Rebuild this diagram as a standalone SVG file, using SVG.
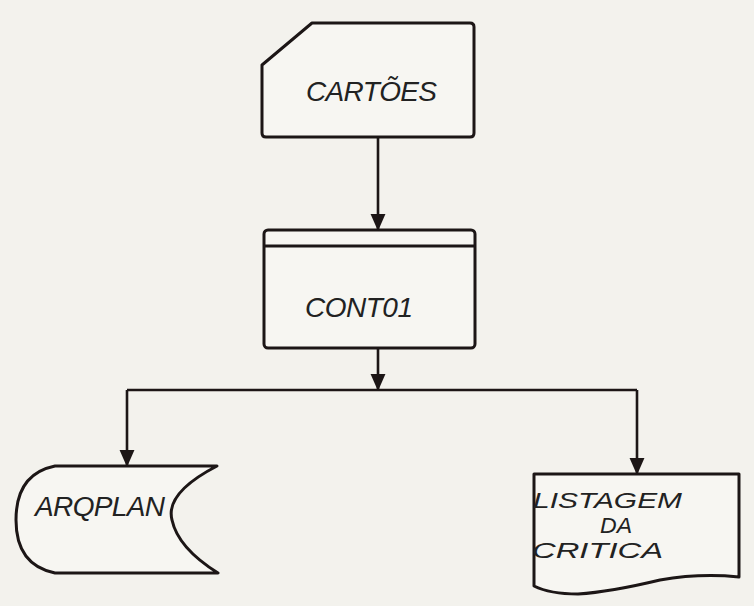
<svg xmlns="http://www.w3.org/2000/svg" width="754" height="606" viewBox="0 0 754 606">
<defs>
<marker id="arr" viewBox="0 0 16 16" refX="15" refY="8" markerWidth="17" markerHeight="17" markerUnits="userSpaceOnUse" orient="auto">
<path d="M0,1 L16,8 L0,15 Z" fill="#1c1616"/>
</marker>
<style>
.shape{fill:#f7f6f2;stroke:#1c1616;stroke-width:3;stroke-linejoin:round}
.conn{fill:none;stroke:#1c1616;stroke-width:2.6}
.lbl{font-family:"Liberation Sans","DejaVu Sans",sans-serif;font-style:italic;font-size:28px;fill:#222;}
.sm{font-size:22px}
</style>
</defs>
<rect width="754" height="606" fill="#f3f2ed"/>
<g id="cartoes">
<path class="shape" d="M312,23 L470,23 Q474,23 474,27 L474,133 Q474,137 470,137 L266,137 Q262,137 262,133 L262,65 Z"/>
<text class="lbl" x="306" y="101" textLength="131" lengthAdjust="spacing">CARTÕES</text>
</g>
<g id="cont01">
<rect class="shape" x="264" y="230" width="211" height="118" rx="4"/>
<line x1="264" y1="246" x2="475" y2="246" stroke="#1c1616" stroke-width="3"/>
<text class="lbl" x="305" y="317" textLength="108" lengthAdjust="spacing">CONT01</text>
</g>
<g id="arqplan">
<path class="shape" d="M55,466 L217,466 Q165,493 172,520 Q178,548 218,573 L55,573 Q16,565 16,520 Q16,474 55,466 Z"/>
<text class="lbl" x="35" y="516" textLength="130" lengthAdjust="spacing">ARQPLAN</text>
</g>
<g id="listagem">
<path class="shape" d="M534,474 L739,474 L739,577 Q700,573 660,580 Q610,592 578,594 Q550,594 534,586 Z"/>
<text class="lbl sm" x="533" y="508" textLength="149" lengthAdjust="spacingAndGlyphs">LISTAGEM</text>
<text class="lbl sm" x="600" y="533" textLength="32" lengthAdjust="spacingAndGlyphs">DA</text>
<text class="lbl sm" x="532" y="558" textLength="131" lengthAdjust="spacingAndGlyphs">CRITICA</text>
</g>
<g id="connectors">
<line class="conn" x1="378" y1="137" x2="378" y2="230" marker-end="url(#arr)"/>
<line class="conn" x1="378" y1="348" x2="378" y2="390" marker-end="url(#arr)"/>
<polyline class="conn" points="127,390 637,390"/>
<line class="conn" x1="127" y1="390" x2="127" y2="466" marker-end="url(#arr)"/>
<line class="conn" x1="637" y1="390" x2="637" y2="474" marker-end="url(#arr)"/>
</g>
</svg>
